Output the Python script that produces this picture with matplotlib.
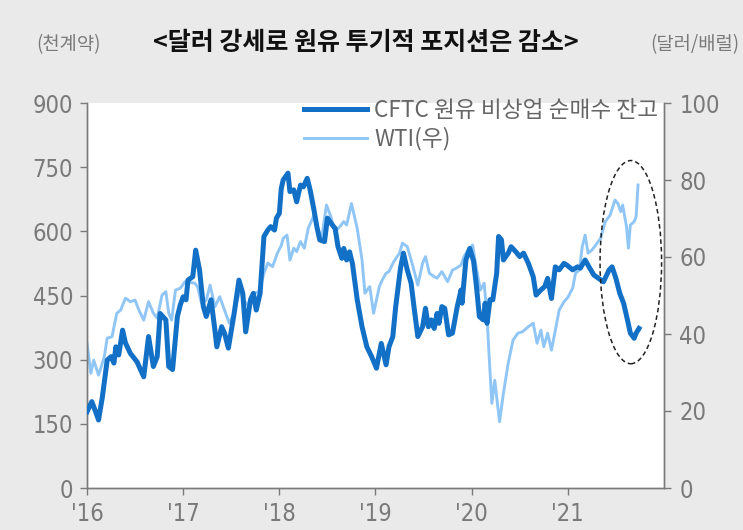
import matplotlib
matplotlib.use("Agg")
import matplotlib.pyplot as plt
from matplotlib.patches import Ellipse

# CFTC crude oil non-commercial net long (thousand contracts), left axis
cftc_t = [2016.00, 2016.05, 2016.09, 2016.12, 2016.16, 2016.21, 2016.25, 2016.28, 2016.30, 2016.33,
          2016.37, 2016.40, 2016.45, 2016.52, 2016.59, 2016.64, 2016.69, 2016.73, 2016.76, 2016.82,
          2016.85, 2016.89, 2016.94, 2016.97, 2017.00, 2017.03, 2017.05, 2017.10, 2017.13, 2017.17,
          2017.21, 2017.24, 2017.29, 2017.33, 2017.35, 2017.40, 2017.43, 2017.47, 2017.53, 2017.58,
          2017.62, 2017.65, 2017.70, 2017.73, 2017.76, 2017.80, 2017.84, 2017.88, 2017.91, 2017.95,
          2017.97, 2018.00, 2018.02, 2018.04, 2018.09, 2018.11, 2018.15, 2018.18, 2018.22, 2018.25,
          2018.29, 2018.32, 2018.36, 2018.39, 2018.42, 2018.47, 2018.50, 2018.55, 2018.58, 2018.61,
          2018.65, 2018.67, 2018.70, 2018.73, 2018.76, 2018.81, 2018.86, 2018.91, 2018.96, 2019.01,
          2019.06, 2019.11, 2019.14, 2019.18, 2019.21, 2019.26, 2019.29, 2019.33, 2019.37, 2019.40,
          2019.44, 2019.49, 2019.52, 2019.55, 2019.58, 2019.61, 2019.64, 2019.66, 2019.69, 2019.72,
          2019.76, 2019.80, 2019.85, 2019.89, 2019.90, 2019.94, 2019.98, 2020.02, 2020.05, 2020.08,
          2020.12, 2020.14, 2020.16, 2020.19, 2020.22, 2020.26, 2020.28, 2020.31, 2020.33, 2020.38,
          2020.41, 2020.46, 2020.50, 2020.54, 2020.59, 2020.64, 2020.67, 2020.72, 2020.76, 2020.79,
          2020.83, 2020.87, 2020.91, 2020.96, 2020.99, 2021.05, 2021.10, 2021.13, 2021.18, 2021.22,
          2021.27, 2021.32, 2021.37, 2021.43, 2021.46, 2021.50, 2021.54, 2021.58, 2021.62, 2021.65,
          2021.69, 2021.71, 2021.74]
cftc = [178, 202, 178, 159, 213, 299, 307, 292, 330, 311,
        369, 339, 315, 295, 260, 354, 284, 307, 408, 393,
        284, 277, 401, 428, 447, 440, 486, 494, 556, 510,
        424, 401, 440, 369, 330, 377, 362, 327, 408, 486,
        455, 365, 440, 455, 416, 455, 588, 603, 611, 603,
        631, 642, 700, 720, 736, 693, 697, 669, 708, 704,
        724, 697, 650, 611, 580, 576, 631, 615, 607, 564,
        537, 560, 533, 552, 525, 440, 377, 330, 307, 280,
        338, 288, 330, 354, 424, 514, 549, 510, 479, 424,
        354, 377, 420, 377, 393, 373, 408, 385, 424, 420,
        358, 362, 424, 463, 432, 533, 560, 530, 471, 401,
        393, 432, 385, 440, 440, 502, 588, 580, 533, 549,
        564, 552, 541, 549, 525, 494, 451, 463, 471, 490,
        443, 517, 510, 525, 521, 510, 517, 514, 533, 517,
        498, 490, 482, 510, 517, 490, 455, 432, 393, 362,
        350, 362, 373]

# WTI (USD/bbl), right axis
wti_t = [2016.00, 2016.04, 2016.07, 2016.12, 2016.18, 2016.21, 2016.26, 2016.31, 2016.35, 2016.40,
         2016.45, 2016.50, 2016.54, 2016.59, 2016.64, 2016.69, 2016.73, 2016.78, 2016.82, 2016.85,
         2016.88, 2016.92, 2016.97, 2017.02, 2017.12, 2017.15, 2017.19, 2017.24, 2017.28, 2017.33,
         2017.38, 2017.43, 2017.48, 2017.53, 2017.59, 2017.64, 2017.69, 2017.74, 2017.79, 2017.84,
         2017.88, 2017.93, 2017.98, 2018.02, 2018.04, 2018.08, 2018.11, 2018.15, 2018.18, 2018.22,
         2018.26, 2018.30, 2018.36, 2018.39, 2018.44, 2018.49, 2018.53, 2018.58, 2018.63, 2018.67,
         2018.70, 2018.75, 2018.81, 2018.86, 2018.89, 2018.94, 2018.98, 2019.01, 2019.04, 2019.07,
         2019.11, 2019.14, 2019.19, 2019.25, 2019.28, 2019.33, 2019.38, 2019.44, 2019.49, 2019.52,
         2019.56, 2019.61, 2019.64, 2019.69, 2019.72, 2019.75, 2019.80, 2019.84, 2019.89, 2019.92,
         2019.96, 2020.01, 2020.04, 2020.09, 2020.13, 2020.16, 2020.18, 2020.21, 2020.24, 2020.29,
         2020.33, 2020.38, 2020.43, 2020.48, 2020.53, 2020.59, 2020.64, 2020.68, 2020.72, 2020.75,
         2020.79, 2020.83, 2020.87, 2020.91, 2020.96, 2021.00, 2021.05, 2021.08, 2021.12, 2021.15,
         2021.18, 2021.21, 2021.25, 2021.29, 2021.34, 2021.39, 2021.44, 2021.49, 2021.52, 2021.55,
         2021.57, 2021.61, 2021.63, 2021.65, 2021.69, 2021.71, 2021.73]
wti = [37.6, 29.8, 33.2, 29.3, 34.1, 38.9, 39.3, 45.4, 46.2, 49.3,
       48.4, 48.8, 46.2, 43.6, 48.4, 45.4, 44.1, 50.1, 51.0, 45.4,
       43.6, 51.4, 51.9, 53.6, 53.2, 52.3, 48.0, 48.8, 52.7, 47.1,
       49.7, 46.2, 42.8, 45.4, 51.4, 48.4, 47.1, 50.6, 51.0, 55.8,
       58.4, 57.5, 61.0, 63.0, 64.8, 65.7, 59.2, 62.3, 61.4, 64.0,
       62.3, 67.4, 70.9, 67.9, 64.8, 73.5, 70.9, 66.6, 67.9, 69.2,
       68.3, 73.9, 67.4, 59.2, 50.6, 52.3, 45.4, 48.8, 52.3, 54.0,
       55.8, 56.2, 58.8, 61.0, 63.6, 62.7, 58.4, 52.7, 58.4, 60.1,
       55.8, 54.9, 54.5, 56.2, 54.9, 53.6, 56.6, 57.1, 57.9, 60.1,
       61.8, 63.1, 58.4, 51.4, 53.2, 44.5, 35.0, 22.0, 28.0, 17.2,
       24.6, 32.4, 38.4, 40.2, 40.6, 41.9, 42.8, 37.6, 41.0, 36.7,
       40.2, 35.8, 41.0, 46.2, 48.4, 49.5, 51.9, 55.8, 56.6, 62.7,
       65.7, 61.0, 61.8, 63.1, 64.8, 69.2, 70.9, 74.8, 73.9, 71.8,
       73.5, 67.9, 62.3, 68.3, 69.2, 70.5, 78.7]

year_ticks = [2016, 2017, 2018, 2019, 2020, 2021]
year_labels = ["'16", "'17", "'18", "'19", "'20", "'21"]
left_ticks = [0, 150, 300, 450, 600, 750, 900]
right_ticks = [0, 20, 40, 60, 80, 100]

DARK = '#1270c6'
LIGHT = '#90c6f6'
GRAY = '#7a7a7a'
BG = '#eaeaea'
KR = ['Noto Sans CJK KR', 'DejaVu Sans']

fig = plt.figure(figsize=(7.43, 5.30), dpi=100, facecolor=BG)
ax = fig.add_axes([87 / 743, 42 / 530, 577 / 743, 385 / 530])
ax2 = ax.twinx()

l1, = ax.plot(cftc_t, cftc, color=DARK, lw=3.6, solid_joinstyle='round', zorder=3)
l2, = ax2.plot(wti_t, wti, color=LIGHT, lw=2.1, solid_joinstyle='round', zorder=2)
ax.set_zorder(2)
ax.patch.set_visible(False)
ax2.set_zorder(1)
ax2.patch.set_visible(True)
ax2.patch.set_facecolor('white')

ax.set_xlim(2016, 2022)
ax.set_ylim(0, 900)
ax2.set_ylim(0, 100)
ax.set_xticks(year_ticks)
ax.set_xticklabels(year_labels)
ax.set_yticks(left_ticks)
ax2.set_yticks(right_ticks)

for a in (ax, ax2):
    a.spines['top'].set_visible(False)
    for s in ('left', 'right', 'bottom'):
        a.spines[s].set_color(GRAY)
        a.spines[s].set_linewidth(1.0)
    a.tick_params(colors=GRAY, labelcolor=GRAY, length=5, width=1.0, labelsize=17)
    for lab in a.get_xticklabels() + a.get_yticklabels():
        lab.set_family('DejaVu Sans')
        lab.set_stretch('condensed')
ax.tick_params(axis='y', pad=5)
ax2.tick_params(axis='y', pad=6)
ax.tick_params(axis='x', pad=5)

# dashed ellipse around recent divergence
ell = Ellipse((2021.655, 528), 0.64, 475, fill=False, ls=(0, (3, 2)),
              lw=1.1, ec='#222222', zorder=5, clip_on=False)
ax.add_patch(ell)

leg = ax.legend([l1, l2], ['CFTC 원유 비상업 순매수 잔고', 'WTI(우)'],
                loc='upper right', bbox_to_anchor=(1.006, 1.035), frameon=False,
                prop={'family': KR, 'size': 16.3}, handlelength=2.8, handletextpad=0.3,
                labelspacing=0.25, borderaxespad=0.0)
for t in leg.get_texts():
    t.set_color('#666666')

fig.text(0.492, 0.918, '<달러 강세로 원유 투기적 포지션은 감소>', ha='center', va='center',
         fontsize=18, fontweight='bold', family=KR, color='#111111')
fig.text(68 / 743, 0.915, '(천계약)', ha='center', va='center', fontsize=13.5,
         family=KR, color=GRAY)
fig.text(695 / 743, 0.915, '(달러/배럴)', ha='center', va='center', fontsize=13.5,
         family=KR, color=GRAY)

fig.savefig('out.png', dpi=100, facecolor=BG)
